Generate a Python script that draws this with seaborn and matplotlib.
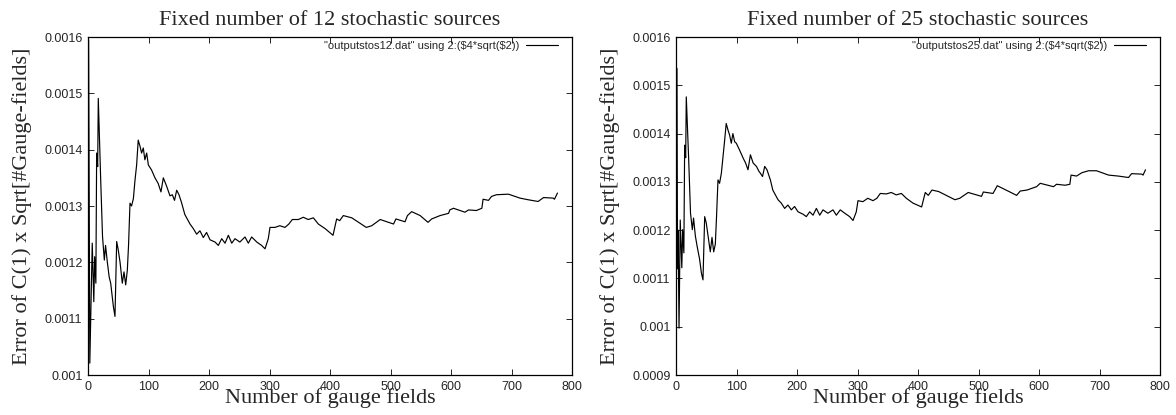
import numpy as np
import pandas as pd
import seaborn as sns
import matplotlib
matplotlib.use("Agg")
import matplotlib.pyplot as plt
from matplotlib.ticker import FuncFormatter, MultipleLocator

sns.set_style("ticks")
plt.rcParams['font.family'] = ['Liberation Sans', 'DejaVu Sans']

# ---- values: (gauge fields, error) for 12 sources ----
pts12 = [(1, 0.001595), (3, 0.001021), (7, 0.001234), (9.6, 0.00113), (11, 0.00121),
         (13, 0.001163), (14.3, 0.001394), (16, 0.00137), (17, 0.001491), (21, 0.001346),
         (24, 0.001246), (27, 0.001204), (29, 0.00123), (32, 0.0012), (35, 0.001174),
         (37.5, 0.001163), (42, 0.001121), (44.6, 0.001104), (47.4, 0.001237),
         (50, 0.001222), (53, 0.0012), (56.7, 0.001163), (59.5, 0.001183), (62.3, 0.00116),
         (65, 0.001186), (67, 0.00123), (69.4, 0.001305), (72, 0.0013), (75, 0.001313),
         (77.7, 0.001346), (80.4, 0.001373), (83, 0.001417), (86, 0.001406),
         (88.6, 0.001394), (91.4, 0.001403), (94, 0.001382), (97, 0.001394),
         (99.7, 0.001373), (105, 0.001364), (110.7, 0.00135), (116, 0.00134),
         (120.6, 0.001325), (124.5, 0.00135), (130, 0.001335), (135.5, 0.001318),
         (139.4, 0.00132), (143, 0.00131), (146.6, 0.001328), (150.4, 0.00132),
         (154.9, 0.001305), (160, 0.001285), (168.6, 0.001268), (174, 0.00126),
         (179.6, 0.00125), (185, 0.001256), (190.6, 0.001244), (196, 0.001253),
         (201.7, 0.00124), (210, 0.001236), (215.4, 0.00123), (221, 0.001242),
         (226.5, 0.001234), (232, 0.001248), (237.6, 0.001234), (243, 0.001242),
         (251, 0.001236), (259.5, 0.001245), (265, 0.001234), (270.5, 0.001245),
         (279, 0.001236), (287, 0.00123), (292.6, 0.001224), (298, 0.001242),
         (300.8, 0.001262), (309, 0.001262), (317, 0.001265), (325.6, 0.001262),
         (332, 0.001268), (337.7, 0.001276), (347.6, 0.001276), (355.9, 0.00128),
         (364, 0.001276), (372.5, 0.001279), (380.7, 0.001268), (391.7, 0.00126),
         (405, 0.001248), (411, 0.001277), (416, 0.001274), (422, 0.001283),
         (436, 0.001279), (460, 0.001262), (469, 0.001265), (483, 0.001276),
         (505, 0.001268), (509, 0.001277), (524, 0.001272), (528, 0.001283),
         (535, 0.00129), (549, 0.001283), (562, 0.001271), (568, 0.001277),
         (582, 0.001283), (596, 0.001287), (598, 0.001293), (604, 0.001296),
         (623, 0.001289), (629, 0.001293), (642, 0.001292), (651, 0.001296),
         (653, 0.001312), (662, 0.00131), (667, 0.001317), (675, 0.00132),
         (695, 0.001321), (714, 0.001314), (728, 0.001311), (744, 0.001308),
         (753, 0.001315), (769, 0.001314), (771, 0.001312), (776, 0.001323)]

# ---- values: (gauge fields, error) for 25 sources ----
pts25 = [(1.6, 0.001535), (2.5, 0.00112), (3.5, 0.0012), (5, 0.000997), (7, 0.001221),
         (9.6, 0.001122), (11, 0.001201), (13, 0.001153), (14.3, 0.001376), (16, 0.00135),
         (17, 0.001476), (21, 0.001345), (24, 0.001235), (27, 0.001201), (29, 0.001225),
         (32, 0.001188), (35, 0.001166), (39, 0.00114), (42, 0.001111), (44.6, 0.001097),
         (47.4, 0.001228), (50, 0.001215), (53, 0.001188), (56.7, 0.001155),
         (59.5, 0.001185), (62.3, 0.001155), (65, 0.001171), (67, 0.001228),
         (69.4, 0.001304), (72, 0.001297), (75, 0.001318), (77.7, 0.001352),
         (80.4, 0.001386), (83, 0.001421), (86, 0.001407), (88.6, 0.001397),
         (91.4, 0.00138), (94, 0.0014), (97, 0.001383), (99.7, 0.00138), (105, 0.001366),
         (110.7, 0.00135), (115, 0.001339), (119, 0.001325), (123, 0.001356),
         (127.5, 0.001339), (133, 0.001332), (137, 0.001322), (139.4, 0.001318),
         (143, 0.001311), (146.6, 0.001332), (150.4, 0.001325), (156, 0.001304),
         (160, 0.001283), (168.6, 0.001263), (174, 0.001256), (179.6, 0.001245),
         (185, 0.001252), (190.6, 0.001242), (196, 0.001249), (201.7, 0.001238),
         (210, 0.001233), (215.4, 0.001228), (221, 0.001238), (226.5, 0.001231),
         (232, 0.001245), (237.6, 0.001231), (243, 0.001242), (251, 0.001235),
         (259.5, 0.001242), (265, 0.001231), (271.5, 0.001242), (279, 0.001235),
         (287, 0.001228), (292.6, 0.00122), (298, 0.001238), (300.8, 0.001261),
         (309, 0.001259), (317, 0.001266), (325.6, 0.001261), (332, 0.001266),
         (337.7, 0.001276), (347.6, 0.001275), (355.9, 0.001278), (364, 0.001273),
         (372.5, 0.001276), (380.7, 0.001266), (391.7, 0.001256), (406, 0.001248),
         (412, 0.001278), (417, 0.001272), (423, 0.001283), (434, 0.00128),
         (461, 0.001263), (469, 0.001266), (483, 0.001278), (505, 0.00127),
         (508, 0.001279), (524, 0.001276), (531, 0.001292), (552, 0.001279),
         (563, 0.001272), (569, 0.001281), (580, 0.001283), (596, 0.00129),
         (602, 0.001297), (624, 0.00129), (629, 0.001295), (643, 0.001293),
         (651, 0.001295), (653, 0.001314), (662, 0.001312), (671, 0.001319),
         (682, 0.001323), (695, 0.001323), (715, 0.001314), (731, 0.001312),
         (748, 0.001309), (753, 0.001317), (770, 0.001316), (772, 0.001314),
         (776, 0.001325)]

titles = ["Fixed number of 12 stochastic sources", "Fixed number of 25 stochastic sources"]
# dollar signs escaped so matplotlib does not read them as mathtext
keys = ['"outputstos12.dat" using 2:(\\$4*sqrt(\\$2))',
        '"outputstos25.dat" using 2:(\\$4*sqrt(\\$2))']
ylims = [(0.001, 0.0016), (0.0009, 0.0016)]
xlabel = "Number of gauge fields"
ylabel = "Error of C(1) x Sqrt[#Gauge-fields]"

fig = plt.figure(figsize=(11.76, 4.15), dpi=100)
W, H = 1176, 415
lefts = [88, 676]
serif = ['Liberation Serif', 'DejaVu Serif']

for i, pts in enumerate([pts12, pts25]):
    ax = fig.add_axes([lefts[i] / W, 40 / H, 484 / W, 338 / H])
    df = pd.DataFrame(pts, columns=["gauge", "err"])
    sns.lineplot(data=df, x="gauge", y="err", ax=ax, color="black", lw=0.85,
                 sort=False, estimator=None, label=keys[i])
    ax.set_xlim(0, 800)
    ax.set_ylim(*ylims[i])
    ax.xaxis.set_major_locator(MultipleLocator(100))
    ax.yaxis.set_major_locator(MultipleLocator(0.0001))
    ax.yaxis.set_major_formatter(FuncFormatter(lambda v, p: "%g" % round(v, 6)))
    ax.tick_params(direction="in", length=4.5, width=0.7, labelsize=9,
                   top=True, right=True, pad=4)
    for s in ax.spines.values():
        s.set_linewidth(0.9)
        s.set_color("black")
    ax.set_title(titles[i], family=serif, fontsize=16, pad=8.5)
    ax.set_xlabel(xlabel, family=serif, fontsize=16, va="top")
    ax.xaxis.set_label_coords(0.5, -0.04)
    ax.set_ylabel(ylabel, family=serif, fontsize=16)
    ax.yaxis.set_label_coords(-0.116, 0.5)
    ax.legend(loc="upper right", bbox_to_anchor=(1 - 12 / 484, 1 - 2 / 338),
              frameon=False, markerfirst=False, fontsize=8, handlelength=2.9,
              handletextpad=0.6, borderpad=0.2, borderaxespad=0)

fig.savefig("out.png", dpi=100)
